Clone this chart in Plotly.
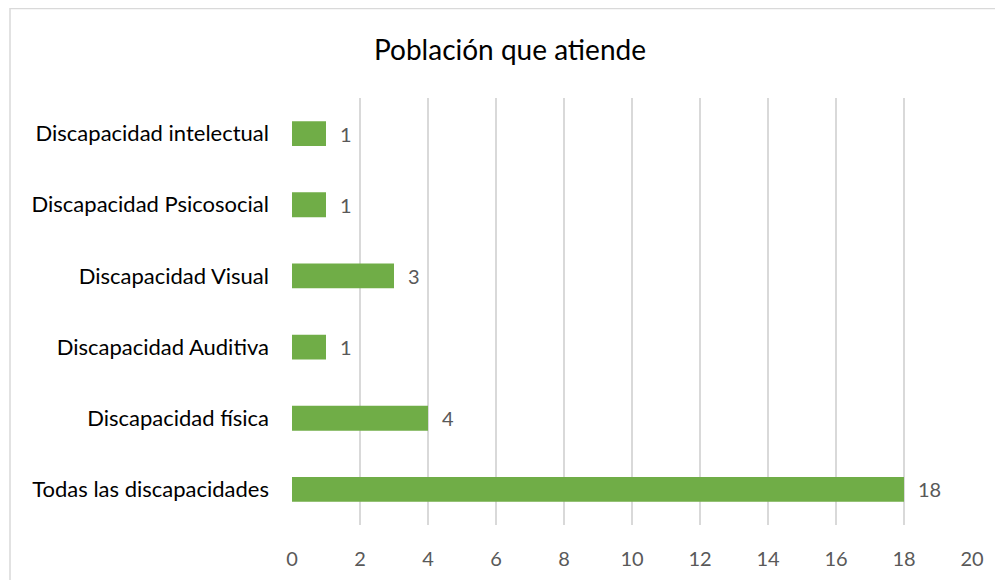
import plotly.graph_objects as go

categories = [
    "Todas las discapacidades",
    "Discapacidad física",
    "Discapacidad Auditiva",
    "Discapacidad Visual",
    "Discapacidad Psicosocial",
    "Discapacidad intelectual",
]
values = [18, 4, 1, 3, 1, 1]
x_ticks = [0, 2, 4, 6, 8, 10, 12, 14, 16, 18, 20]
title_text = "Población que atiende"

FONT = "Lato"
W, H = 1003, 580
OFF = 8  # browser body margin offset
L, R, T, B = 292 - OFF, 31 + OFF, 98 - OFF, 55 + OFF
pw, ph = W - L - R, H - T - B

fig = go.Figure()
fig.add_trace(go.Bar(
    y=categories,
    x=values,
    orientation="h",
    marker=dict(color="#70AD47", line=dict(width=0)),
    width=0.35,
    cliponaxis=False,
    hoverinfo="x+y",
))

for c, v in zip(categories, values):
    fig.add_annotation(x=v, y=c, text=str(v), showarrow=False,
                       xanchor="left", yanchor="middle", xshift=12,
                       font=dict(family=FONT, size=20, color="#595959"))

fig.update_layout(
    width=W, height=H,
    margin=dict(l=L, r=R, t=T, b=B),
    paper_bgcolor="white",
    plot_bgcolor="white",
    showlegend=False,
    title=dict(text=title_text, x=(510 - OFF) / W, xanchor="center",
               y=1 - (50 - OFF) / H, yanchor="middle",
               font=dict(family=FONT, size=28, color="#000000")),
    xaxis=dict(
        range=[0, 20],
        tickvals=x_ticks,
        ticktext=[str(t) for t in x_ticks],
        showgrid=True,
        gridcolor="#D9D9D9",
        gridwidth=1.5,
        zeroline=False,
        showline=False,
        ticks="",
        tickfont=dict(family=FONT, size=20, color="#595959"),
        ticklabelstandoff=20,
    ),
    yaxis=dict(
        categoryorder="array",
        categoryarray=categories,
        range=[-0.5, 5.5],
        showgrid=False,
        zeroline=False,
        showline=False,
        ticks="",
        tickfont=dict(family=FONT, size=22, color="#000000"),
        ticklabelstandoff=22,
    ),
)

# outer chart border (light gray)
fig.add_shape(type="rect", xref="paper", yref="paper",
              x0=(10 - OFF - L) / pw, x1=(W + 20 - L) / pw,
              y0=(H - B - (H + 20)) / ph, y1=(H - B - (8.5 - OFF)) / ph,
              line=dict(color="#D9D9D9", width=1.5), fillcolor="rgba(0,0,0,0)",
              layer="below")

fig.write_html("out.html")
